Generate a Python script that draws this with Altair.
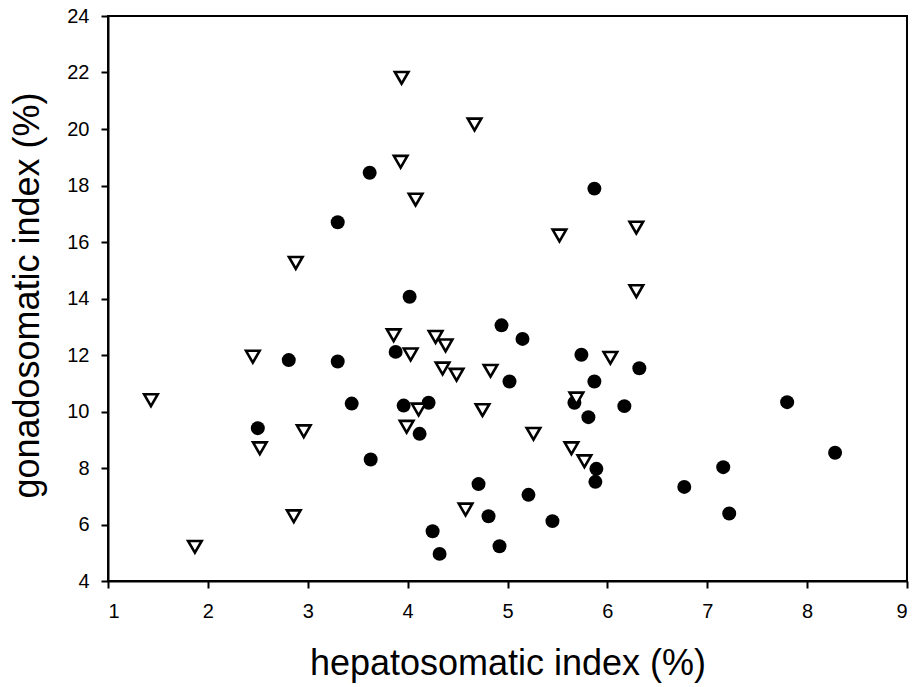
import altair as alt
import pandas as pd

# Filled circles
circle_x = [3.62, 3.30, 4.02, 5.87, 4.94, 5.15, 3.88, 2.81, 3.30, 5.02,
            3.44, 3.96, 4.21, 2.50, 4.12, 3.63, 4.71, 4.81, 4.25, 4.32,
            4.92, 5.74, 6.32, 5.87, 5.67, 6.17, 7.80, 5.81, 8.28, 5.89,
            5.88, 7.16, 6.77, 5.21, 7.22, 5.45]
circle_y = [18.45, 16.70, 14.06, 17.89, 13.05, 12.57, 12.11, 11.82, 11.77, 11.06,
            10.28, 10.21, 10.31, 9.41, 9.21, 8.30, 7.43, 6.29, 5.76, 4.96,
            5.23, 12.01, 11.53, 11.06, 10.31, 10.19, 10.33, 9.80, 8.54, 7.97,
            7.51, 8.03, 7.33, 7.05, 6.39, 6.12]

# Open down-triangles
tri_x = [3.94, 3.93, 4.08, 4.67, 2.88, 5.52, 6.29, 6.29, 3.86, 4.28,
         4.38, 4.03, 2.45, 4.35, 4.49, 4.83, 1.43, 4.11, 4.75, 2.96,
         3.99, 2.52, 4.58, 2.86, 1.87, 6.03, 5.69, 5.26, 5.64, 5.77]
tri_y = [21.81, 18.84, 17.50, 20.16, 15.26, 16.23, 16.51, 14.26, 12.70, 12.64,
         12.34, 12.02, 11.94, 11.52, 11.30, 11.44, 10.40, 10.07, 10.05, 9.30,
         9.46, 8.70, 6.53, 6.29, 5.21, 11.90, 10.46, 9.21, 8.70, 8.24]

x_ticks = [1, 2, 3, 4, 5, 6, 7, 8, 9]
y_ticks = [4, 6, 8, 10, 12, 14, 16, 18, 20, 22, 24]

circles = pd.DataFrame({"hsi": circle_x, "gsi": circle_y})
tris = pd.DataFrame({"hsi": tri_x, "gsi": tri_y})

FONT = "Liberation Sans"

x_enc = alt.X("hsi:Q",
              scale=alt.Scale(domain=[1, 9], nice=False, zero=False),
              axis=alt.Axis(values=x_ticks, title="hepatosomatic index (%)",
                            format="d", titleY=93, titleBaseline="alphabetic",
                            labelPadding=13, labelFontSize=20, labelFont=FONT))
y_enc = alt.Y("gsi:Q",
              scale=alt.Scale(domain=[4, 24], nice=False, zero=False),
              axis=alt.Axis(values=y_ticks, title="gonadosomatic index (%)",
                            format="d", titleX=-70, titleY=279,
                            titleAngle=270, titleAlign="center",
                            titleBaseline="alphabetic", labelPadding=12,
                            labelFontSize=20, labelFont=FONT))

c_layer = alt.Chart(circles).mark_circle(size=195, color="black", opacity=1).encode(
    x=x_enc, y=y_enc)
t_layer = alt.Chart(tris).mark_point(shape="triangle-down", size=185, filled=True,
                                     fill="white", stroke="black", strokeWidth=2.6,
                                     opacity=1).encode(x=x_enc, y=y_enc)

chart = alt.layer(c_layer, t_layer).properties(
    width=799, height=565,
    autosize=alt.AutoSizeParams(type="none"),
    padding={"left": 108, "top": 16, "right": 9, "bottom": 106},
).configure_view(
    stroke="black", strokeWidth=2
).configure_axis(
    grid=False, domainColor="black", domainWidth=2,
    tickColor="black", tickWidth=2, tickSize=7,
    labelColor="black",
    titleFont=FONT, titleFontSize=36, titleFontWeight="normal", titleColor="black",
)

chart.save("out.html", embed_options={"renderer": "svg", "actions": False})
